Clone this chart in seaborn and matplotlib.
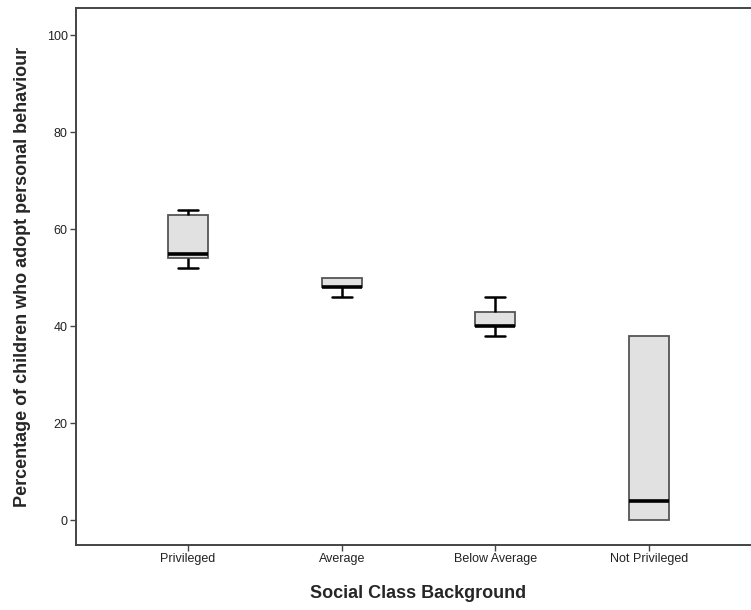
import numpy as np
import pandas as pd
import seaborn as sns
import matplotlib.pyplot as plt

classes = ['Privileged', 'Average', 'Below Average', 'Not Privileged']
privileged = [52, 54, 55, 63, 64]
average = [46, 48, 48, 50, 50]
below_average = [38, 40, 40, 43, 46]
not_privileged = [0, 0, 4, 38, 38]

df = pd.DataFrame({
    'Social Class Background': [c for c, v in zip(classes, [privileged, average, below_average, not_privileged]) for _ in v],
    'pct': privileged + average + below_average + not_privileged,
})

sns.set_style('white')
plt.rcParams['font.family'] = ['Liberation Sans', 'DejaVu Sans']

fig = plt.figure(figsize=(7.51, 6.10), dpi=100)
ax = fig.add_axes([76 / 751, 1 - 545 / 610, 685 / 751, 537 / 610])

sns.boxplot(data=df, x='Social Class Background', y='pct', order=classes,
            color='#e1e1e1', saturation=1, width=0.26, whis=1.5,
            linewidth=1.3, linecolor='#555555',
            medianprops=dict(color='black', linewidth=2.6),
            whiskerprops=dict(color='black', linewidth=1.8),
            capprops=dict(color='black', linewidth=1.8),
            ax=ax)

# SPSS draws no cap when a whisker has zero length
zero_whiskers = []
for ln in ax.lines:
    xd, yd = np.asarray(ln.get_xdata()), np.asarray(ln.get_ydata())
    if len(xd) == 2 and xd[0] == xd[1] and yd[0] == yd[1]:
        zero_whiskers.append((xd[0], yd[0]))
for ln in ax.lines:
    xd, yd = np.asarray(ln.get_xdata()), np.asarray(ln.get_ydata())
    if len(xd) == 2 and yd[0] == yd[1] and np.ptp(xd) < 0.2:
        for wx, wy in zero_whiskers:
            if abs(xd.mean() - wx) < 1e-6 and yd[0] == wy:
                ln.set_visible(False)

ax.set_xlim(-0.729, 3.729)
ax.set_ylim(-5.15, 105.67)
ax.set_yticks([0, 20, 40, 60, 80, 100])

for side in ['left', 'bottom', 'top']:
    ax.spines[side].set_color('#444444')
    ax.spines[side].set_linewidth(1.4)
ax.spines['right'].set_visible(False)

ax.tick_params(axis='both', direction='out', length=4, width=1, color='#444444',
               labelsize=9, labelcolor='#222222', pad=2)
ax.tick_params(left=True, bottom=True)

ax.set_xlabel('Social Class Background', fontsize=13, fontweight='bold')
ax.set_ylabel('Percentage of children who adopt personal behaviour', fontsize=13,
              fontweight='bold')
ax.xaxis.set_label_coords((418 - 76) / 685, -(585 - 545) / 537)
ax.yaxis.set_label_coords(-(76 - 31) / 685, 0.5)

fig.savefig('out.png', dpi=100)
